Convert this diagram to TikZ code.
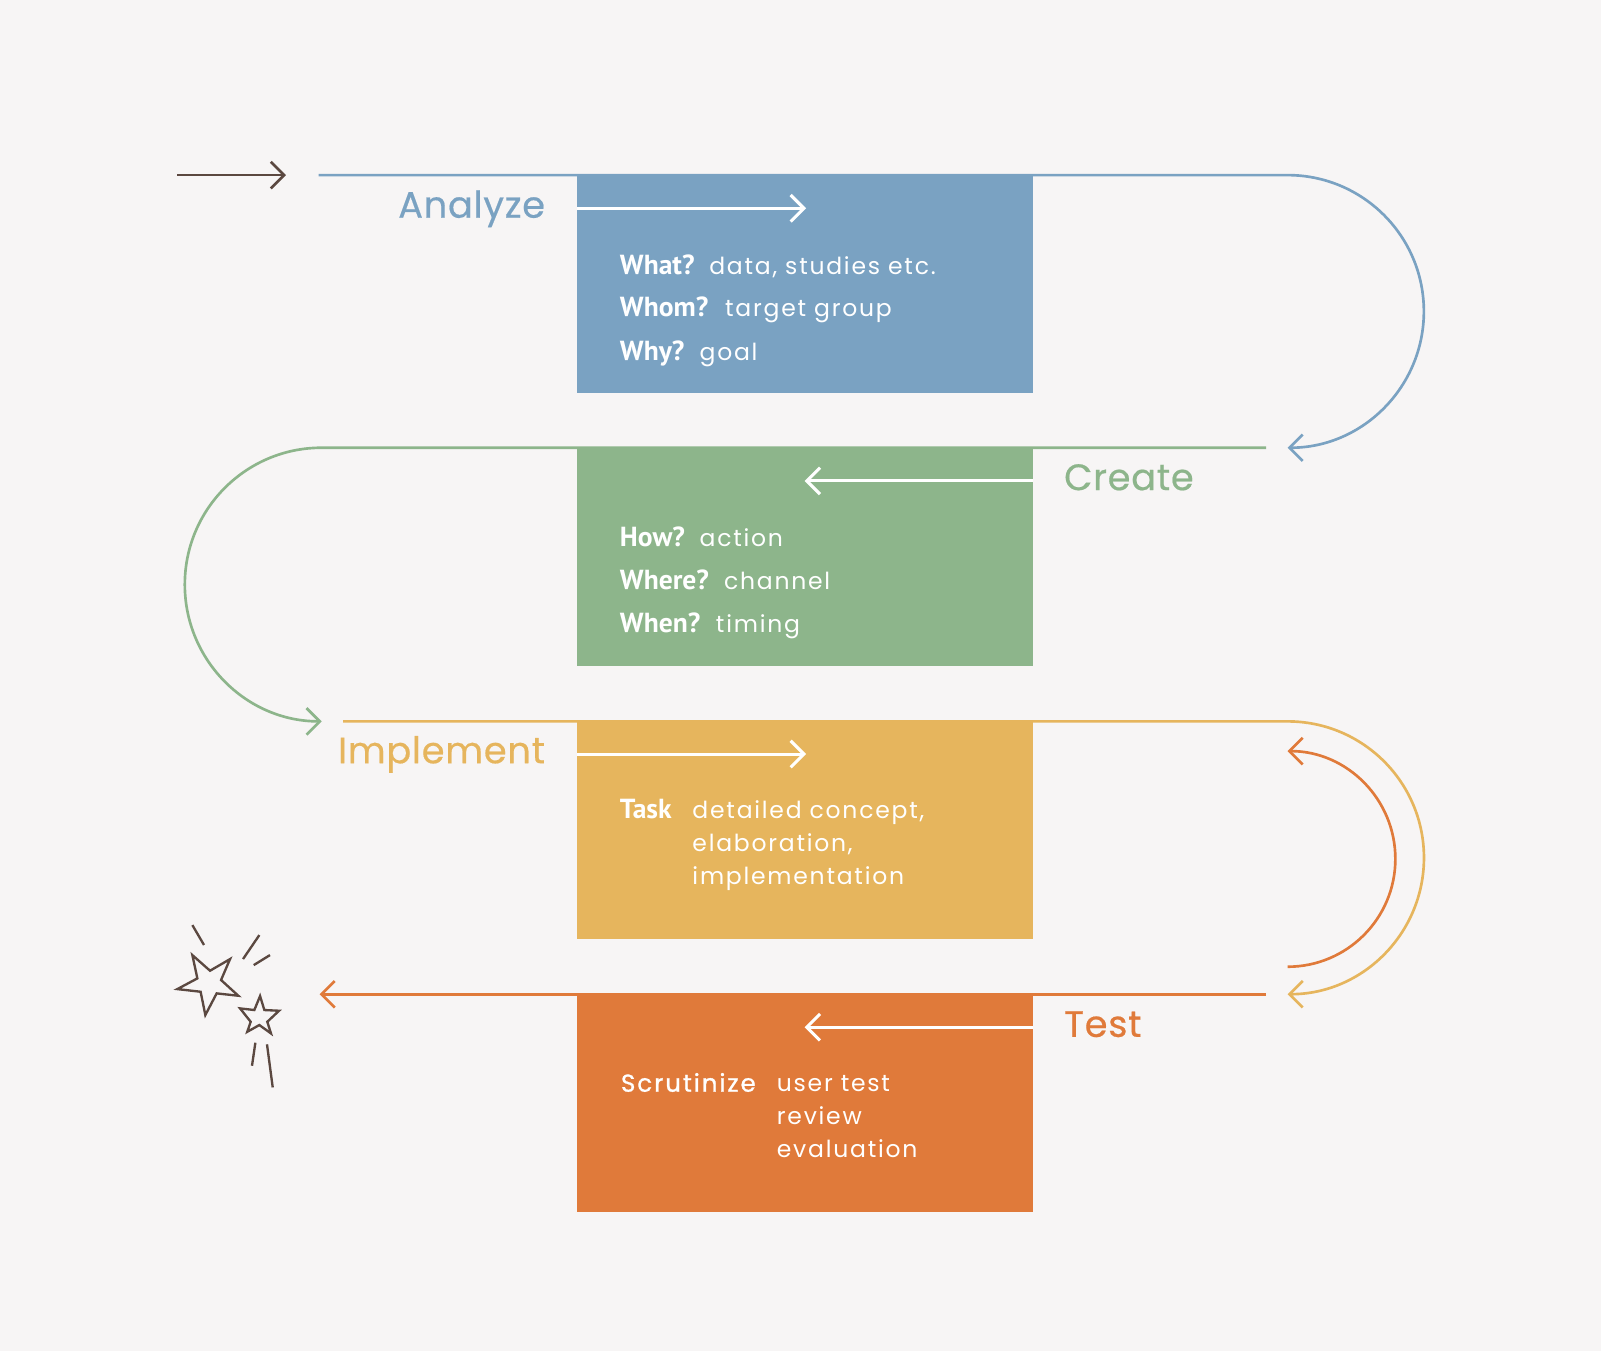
\documentclass[tikz,border=0pt]{standalone}
\usepackage{fontspec}
\setmainfont{Poppins}[LetterSpace=7.5]
\newfontfamily\qfam{PT Sans}
\newfontfamily\medfam{Poppins}[FakeBold=1,LetterSpace=8]
\newfontfamily\lblfam{Poppins}[FakeBold=0.5,LetterSpace=2]
\usetikzlibrary{arrows.meta}
\definecolor{cbg}{HTML}{F7F5F5}
\definecolor{cblue}{HTML}{7AA2C2}
\definecolor{cgreen}{HTML}{8DB58B}
\definecolor{cyellow}{HTML}{E6B55D}
\definecolor{corange}{HTML}{E07A3A}
\definecolor{cbrown}{HTML}{5B4840}
\tikzset{
  conn/.style={line width=2.6pt},
  barb/.style={-{Straight Barb[length=13pt,width=26pt]}},
  boxnode/.style={anchor=north west,minimum width=446.5pt,minimum height=213.8pt,inner sep=0pt,outer sep=0pt},
  wline/.style={white,line width=3pt,-{Straight Barb[length=13pt,width=26pt]}},
  q/.style={anchor=base west,inner sep=0pt,white,font=\qfam\bfseries\fontsize{27}{27}\selectfont},
  t/.style={anchor=base west,inner sep=0pt,white,font=\fontsize{23}{23}\selectfont},
  m/.style={anchor=base west,inner sep=0pt,white,font=\medfam\fontsize{24}{24}\selectfont},
  lbl/.style={inner sep=0pt,font=\lblfam\fontsize{36}{36}\selectfont},
  star/.style={cbrown,line width=2.3pt,line join=miter}
}
\begin{document}
\begin{tikzpicture}[x=1pt,y=-1pt]
\path[fill=cbg,use as bounding box] (0,0) rectangle (1568,1323);
% boxes
\node[boxnode,fill=cblue]   (b1) at (565,171.5) {};
\node[boxnode,fill=cgreen]  (b2) at (565,438.5) {};
\node[boxnode,fill=cyellow] (b3) at (565,706) {};
\node[boxnode,fill=corange] (b4) at (565,973.5) {};
% coordinates
\coordinate (s0) at (173.5,171.5);
\coordinate (s1) at (280,171.5);
\coordinate (a0) at (312,171.5);
\coordinate (a1) at (1261,171.5);
\coordinate (c0) at (1240,438.5);
\coordinate (c1) at (315,438.5);
\coordinate (i0) at (336,706.5);
\coordinate (i1) at (1261,706.5);
\coordinate (t0) at (1240,973.8);
\coordinate (t1) at (313,973.8);
\coordinate (r0) at (1261,946.8);
% start arrow
\draw[conn,cbrown,barb] (s0) -- (s1);
% blue path
\draw[conn,cblue,barb] (a0) -- (a1) arc[start angle=-90,end angle=90,radius=133.5];
% green path
\draw[conn,cgreen,barb] (c0) -- (c1) arc[start angle=-90,end angle=-270,radius=134];
% yellow path
\draw[conn,cyellow,barb] (i0) -- (i1) arc[start angle=-90,end angle=90,radius=133.6];
% orange path
\draw[conn,corange,barb] (t0) -- (t1);
\draw[conn,corange,barb] (r0) arc[start angle=90,end angle=-90,radius=105.6];
% white arrows in boxes
\coordinate (w1) at (789.5,204);
\coordinate (w2) at (788,471);
\coordinate (w3) at (789.5,738.5);
\coordinate (w4) at (788,1006);
\draw[wline] (b1.north west |- w1) -- (w1);
\draw[wline] (b2.north east |- w2) -- (w2);
\draw[wline] (b3.north west |- w3) -- (w3);
\draw[wline] (b4.north east |- w4) -- (w4);
% labels
\node[lbl,cblue,anchor=base east]   (la) at (534,213.2) {Analyze};
\node[lbl,cgreen,anchor=base west]  (lc) at (1042,480) {Create};
\node[lbl,cyellow,anchor=base east] (li) at (534,747.5) {Implement};
\node[lbl,corange,anchor=base west] (lt) at (1042,1015.5) {Test};
% blue box text
\node[q] (q11) at (607,268.6) {What?};
\node[t] (t11) at (694.5,268.6) {data, studies etc.};
\node[q] (q12) at (607,310.4) {Whom?};
\node[t] (t12) at (710,310.4) {target group};
\node[q] (q13) at (607,352.6) {Why?};
\node[t] (t13) at (685,352.6) {goal};
% green box text
\node[q] (q21) at (607,535.6) {How?};
\node[t] (t21) at (685,535.6) {action};
\node[q] (q22) at (607,577.4) {Where?};
\node[t] (t22) at (709,577.4) {channel};
\node[q] (q23) at (607,619.6) {When?};
\node[t] (t23) at (701,619.6) {timing};
% yellow box text
\node[q] (q31) at (607,801.5) {Task};
\node[t] (t31) at (678,801.5) {detailed concept,};
\node[t] (t32) at (678,834) {elaboration,};
\node[t] (t33) at (678,866.5) {implementation};
% orange box text
\node[m] (q41) at (608,1069.2) {Scrutinize};
\node[t] (t41) at (760.7,1069.2) {user test};
\node[t] (t42) at (760.7,1101.2) {review};
\node[t] (t43) at (760.7,1133.4) {evaluation};
% stars
\draw[star] (188.4,935.4) -- (205.7,950.7) -- (225.3,939.3) -- (216.5,959.8) -- (233.4,975.2) -- (212.2,972.9) -- (201.1,994.1) -- (196.5,971.3) -- (173.7,968.7) -- (193.3,958.2) -- cycle;
\draw[star] (254.7,975.5) -- (258.9,989.2) -- (273.3,989.9) -- (261.8,1000.7) -- (265.4,1012.1) -- (254.0,1003.9) -- (242.2,1010.5) -- (245.5,1000.7) -- (235.1,987.6) -- (249.1,989.2) -- cycle;
\draw[star] (188.4,906) -- (199.8,925.5);
\draw[star] (254,915.8) -- (238,939.3);
\draw[star] (264.4,935.4) -- (248.5,945.2);
\draw[star] (250.1,1021.2) -- (246.8,1043.8);
\draw[star] (261.5,1022.8) -- (267.1,1065);
\end{tikzpicture}
\end{document}
